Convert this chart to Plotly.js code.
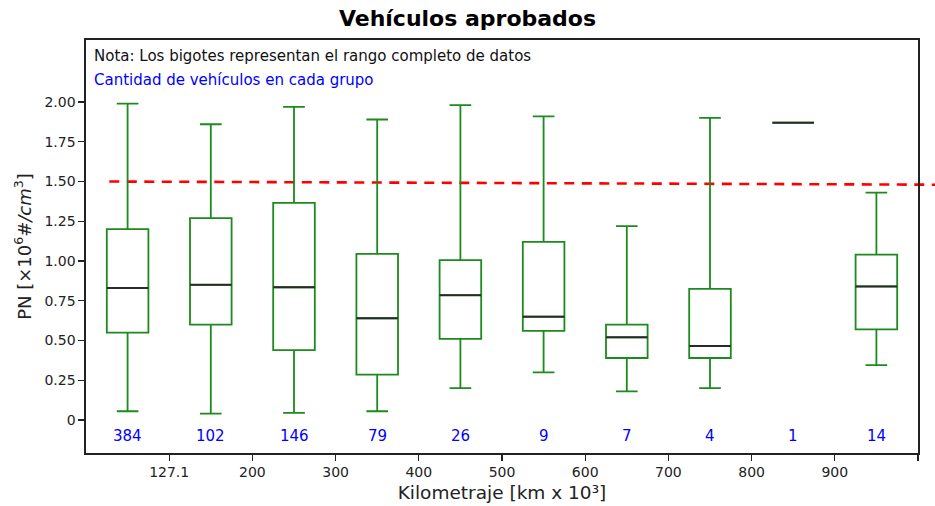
<!DOCTYPE html>
<html>
<head>
<meta charset="utf-8">
<script src="https://cdn.plot.ly/plotly-3.0.1.min.js"></script>
<style>html,body{margin:0;padding:0;background:#fff}#chart{width:935px;height:506px}</style>
</head>
<body>
<div id="chart"></div>
<script>
const positions = [1, 2, 3, 4, 5, 6, 7, 8, 9, 10];
const counts = [384, 102, 146, 79, 26, 9, 7, 4, 1, 14];
const upperWhisker = [1.99, 1.86, 1.97, 1.89, 1.98, 1.91, 1.22, 1.90, 1.87, 1.43];
const q3Values = [1.20, 1.27, 1.365, 1.045, 1.005, 1.12, 0.60, 0.825, 1.87, 1.04];
const medians = [0.83, 0.85, 0.835, 0.64, 0.785, 0.65, 0.52, 0.465, 1.87, 0.84];
const q1Values = [0.55, 0.60, 0.44, 0.285, 0.51, 0.56, 0.39, 0.39, 1.87, 0.57];
const lowerWhisker = [0.055, 0.04, 0.045, 0.055, 0.20, 0.30, 0.18, 0.20, 1.87, 0.345];
const xTickVals = [1.5, 2.5, 3.5, 4.5, 5.5, 6.5, 7.5, 8.5, 9.5, 10.5];
const xTickText = ["127.1", "200", "300", "400", "500", "600", "700", "800", "900", ""];
const yTickVals = [0, 0.25, 0.5, 0.75, 1.0, 1.25, 1.5, 1.75, 2.0];
const yTickText = ["0", "0.25", "0.50", "0.75", "1.00", "1.25", "1.50", "1.75", "2.00"];
const limitStart = 1.5;
const limitEnd = 1.48;

const FONT = "DejaVu Sans, sans-serif";
const boxHalf = 0.25;

const boxTrace = {
  type: "box",
  x: positions,
  q1: q1Values,
  median: medians,
  q3: q3Values,
  lowerfence: lowerWhisker,
  upperfence: upperWhisker,
  width: 0.5,
  whiskerwidth: 0.52,
  line: {color: "#1c8a1c", width: 1.8},
  fillcolor: "rgba(255,255,255,0)",
  boxpoints: false,
  hoverinfo: "skip",
  showlegend: false
};

const mx = [], my = [];
positions.forEach((p, i) => {
  mx.push(p - boxHalf, p + boxHalf, null);
  my.push(medians[i], medians[i], null);
});
const medianTrace = {
  type: "scatter", mode: "lines", x: mx, y: my,
  line: {color: "#2a2a2a", width: 2},
  hoverinfo: "skip", showlegend: false
};

const annotations = [
  {xref: "paper", yref: "paper", x: 0, y: 0.961, xshift: 6, xanchor: "left", yanchor: "middle",
   text: "Nota: Los bigotes representan el rango completo de datos", showarrow: false,
   font: {family: FONT, size: 15, color: "#111"}},
  {xref: "paper", yref: "paper", x: 0, y: 0.903, xshift: 6, xanchor: "left", yanchor: "middle",
   text: "Cantidad de vehículos en cada grupo", showarrow: false,
   font: {family: FONT, size: 15, color: "#0000ff"}}
];
positions.forEach((p, i) => {
  annotations.push({xref: "x", yref: "y", x: p, y: -0.1, text: String(counts[i]), showarrow: false,
    font: {family: FONT, size: 15, color: "#0000ff"}, xanchor: "center", yanchor: "middle"});
});

const layout = {
  width: 935, height: 506,
  margin: {l: 86, r: 17, t: 40, b: 53},
  paper_bgcolor: "#fff", plot_bgcolor: "#fff",
  font: {family: FONT, size: 14, color: "#222"},
  title: {text: "<b>Vehículos aprobados</b>", x: 0.5, xanchor: "center", y: 0.964, yanchor: "middle",
          font: {family: FONT, size: 22, color: "#000"}},
  xaxis: {
    range: [0.5, 10.5], tickmode: "array", tickvals: xTickVals, ticktext: xTickText,
    ticks: "outside", ticklen: 6, tickwidth: 1.3, tickcolor: "#222",
    showline: true, linecolor: "#222", linewidth: 1.6, mirror: true,
    showgrid: false, zeroline: false,
    tickfont: {family: FONT, size: 14, color: "#222"},
    title: {text: "Kilometraje [km x 10³]", font: {family: FONT, size: 18.5, color: "#222"}, standoff: 6}
  },
  yaxis: {
    range: [-0.2075, 2.39], tickmode: "array", tickvals: yTickVals, ticktext: yTickText,
    ticks: "outside", ticklen: 6, tickwidth: 1.3, tickcolor: "#222",
    showline: true, linecolor: "#222", linewidth: 1.6, mirror: true,
    showgrid: false, zeroline: false,
    tickfont: {family: FONT, size: 14, color: "#222"},
    title: {text: "PN [×10<sup>6</sup><i>#/cm</i><sup>3</sup>]", font: {family: FONT, size: 18, color: "#222"}, standoff: 8}
  },
  shapes: [
    {type: "line", layer: "below", xref: "paper", yref: "y", x0: 0.028, x1: 1.021, y0: limitStart, y1: limitEnd,
     line: {color: "#ff0000", width: 2.6, dash: "10px,7.5px"}}
  ],
  annotations: annotations
};

Plotly.newPlot("chart", [boxTrace, medianTrace], layout, {staticPlot: true, displayModeBar: false});
</script>
</body>
</html>
